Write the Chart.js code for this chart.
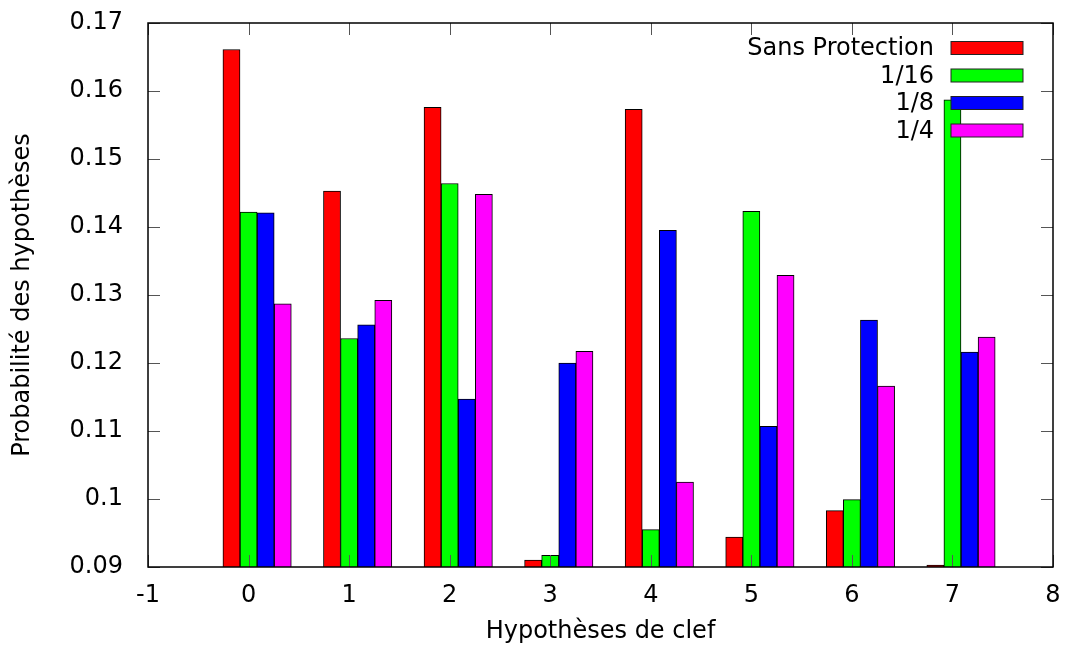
<!DOCTYPE html>
<html>
<head>
<meta charset="utf-8">
<script src="https://cdn.jsdelivr.net/npm/chart.js@4/dist/chart.umd.min.js"></script>
<style>
    body { margin: 0; background: #fff; }
    canvas { display: block; }
</style>
</head>
<body>
<canvas id="hypChart" width="1071" height="647"></canvas>
<script>
const keys = [0, 1, 2, 3, 4, 5, 6, 7];
const seriesNames = ['Sans Protection', '1/16', '1/8', '1/4'];
const sansProtection = [0.1661, 0.1453, 0.1576, 0.0910, 0.1573, 0.0944, 0.0983, 0.0903];
const prot16 = [0.1422, 0.1236, 0.1464, 0.0917, 0.0955, 0.1423, 0.0999, 0.1587];
const prot8 = [0.1421, 0.1256, 0.1147, 0.1200, 0.1395, 0.1107, 0.1263, 0.1216];
const prot4 = [0.1287, 0.1292, 0.1448, 0.1217, 0.1025, 0.1329, 0.1166, 0.1238];
const yTicks = [0.09, 0.10, 0.11, 0.12, 0.13, 0.14, 0.15, 0.16, 0.17];
const xTicks = [-1, 0, 1, 2, 3, 4, 5, 6, 7, 8];

const colors = ['#ff0000', '#00ff00', '#0000ff', '#ff00ff'];
const barWidth = 0.17;
const FONT = 'DejaVu Sans';

const allSeries = [sansProtection, prot16, prot8, prot4];

// each series is shifted by one bar width, like gnuplot's ($1+offset)
const datasets = allSeries.map((vals, k) => ({
    label: seriesNames[k],
    data: keys.map((x, i) => ({ x: x + (k - 1) * barWidth, y: vals[i] })),
    backgroundColor: colors[k],
    borderColor: '#000',
    borderWidth: 1,
    borderSkipped: 'start',
    grouped: false,
    barPercentage: 1,
    categoryPercentage: 1
}));

const framePlugin = {
    id: 'frame',
    afterDatasetsDraw(chart) {
        const { ctx, chartArea: a, scales } = chart;
        ctx.save();
        ctx.strokeStyle = '#555';
        ctx.lineWidth = 1;
        const len = 12;
        ctx.beginPath();
        yTicks.forEach(v => {
            const y = Math.round(scales.y.getPixelForValue(v)) + 0.5;
            ctx.moveTo(a.left, y); ctx.lineTo(a.left + len, y);
            ctx.moveTo(a.right, y); ctx.lineTo(a.right - len, y);
        });
        xTicks.forEach(v => {
            const x = Math.round(scales.x.getPixelForValue(v)) + 0.5;
            ctx.moveTo(x, a.bottom); ctx.lineTo(x, a.bottom - len);
            ctx.moveTo(x, a.top); ctx.lineTo(x, a.top + len);
        });
        ctx.stroke();
        ctx.strokeStyle = '#000';
        ctx.lineWidth = 1.5;
        ctx.strokeRect(a.left, a.top, a.right - a.left, a.bottom - a.top);

        // legend: text right aligned, swatch on the right
        ctx.font = `24px "${FONT}"`;
        ctx.textAlign = 'right';
        ctx.textBaseline = 'middle';
        chart.data.datasets.forEach((ds, k) => {
            const cy = a.top + 25 + k * 27.5;
            ctx.fillStyle = '#000';
            ctx.fillText(ds.label, a.right - 119, cy + 1);
            ctx.fillStyle = ds.backgroundColor;
            ctx.fillRect(a.right - 102, cy - 6.5, 72, 13);
            ctx.strokeStyle = '#222';
            ctx.lineWidth = 1;
            ctx.strokeRect(a.right - 102, cy - 6.5, 72, 13);
        });
        ctx.restore();
    }
};

new Chart(document.getElementById('hypChart'), {
    type: 'bar',
    data: { datasets },
    options: {
        responsive: false,
        animation: false,
        layout: { padding: { top: 23, right: 18, left: 0, bottom: 0 } },
        plugins: {
            legend: { display: false },
            tooltip: { enabled: false }
        },
        scales: {
            x: {
                type: 'linear',
                min: -1,
                max: 8,
                offset: false,
                grid: { display: false },
                border: { display: false },
                ticks: {
                    stepSize: 1,
                    padding: 6,
                    color: '#000',
                    font: { family: FONT, size: 24 }
                },
                title: {
                    display: true,
                    text: 'Hypothèses de clef',
                    color: '#000',
                    font: { family: FONT, size: 24 },
                    padding: { top: 0, bottom: 1 }
                },
                afterFit(scale) { scale.height = 80; }
            },
            y: {
                min: 0.09,
                max: 0.17,
                grid: { display: false },
                border: { display: false },
                ticks: {
                    stepSize: 0.01,
                    padding: 17,
                    color: '#000',
                    font: { family: FONT, size: 24 },
                    callback: v => String(Number(v.toFixed(2)))
                },
                title: {
                    display: true,
                    text: 'Probabilité des hypothèses',
                    color: '#000',
                    font: { family: FONT, size: 24 },
                    padding: { top: 8, bottom: 0 }
                },
                afterFit(scale) {
                    scale.width = 148;
                    // labels may overflow into the top margin, don't grow it
                    scale.paddingTop = 0;
                    scale.paddingBottom = 0;
                }
            }
        }
    },
    plugins: [framePlugin]
});
</script>
</body>
</html>
